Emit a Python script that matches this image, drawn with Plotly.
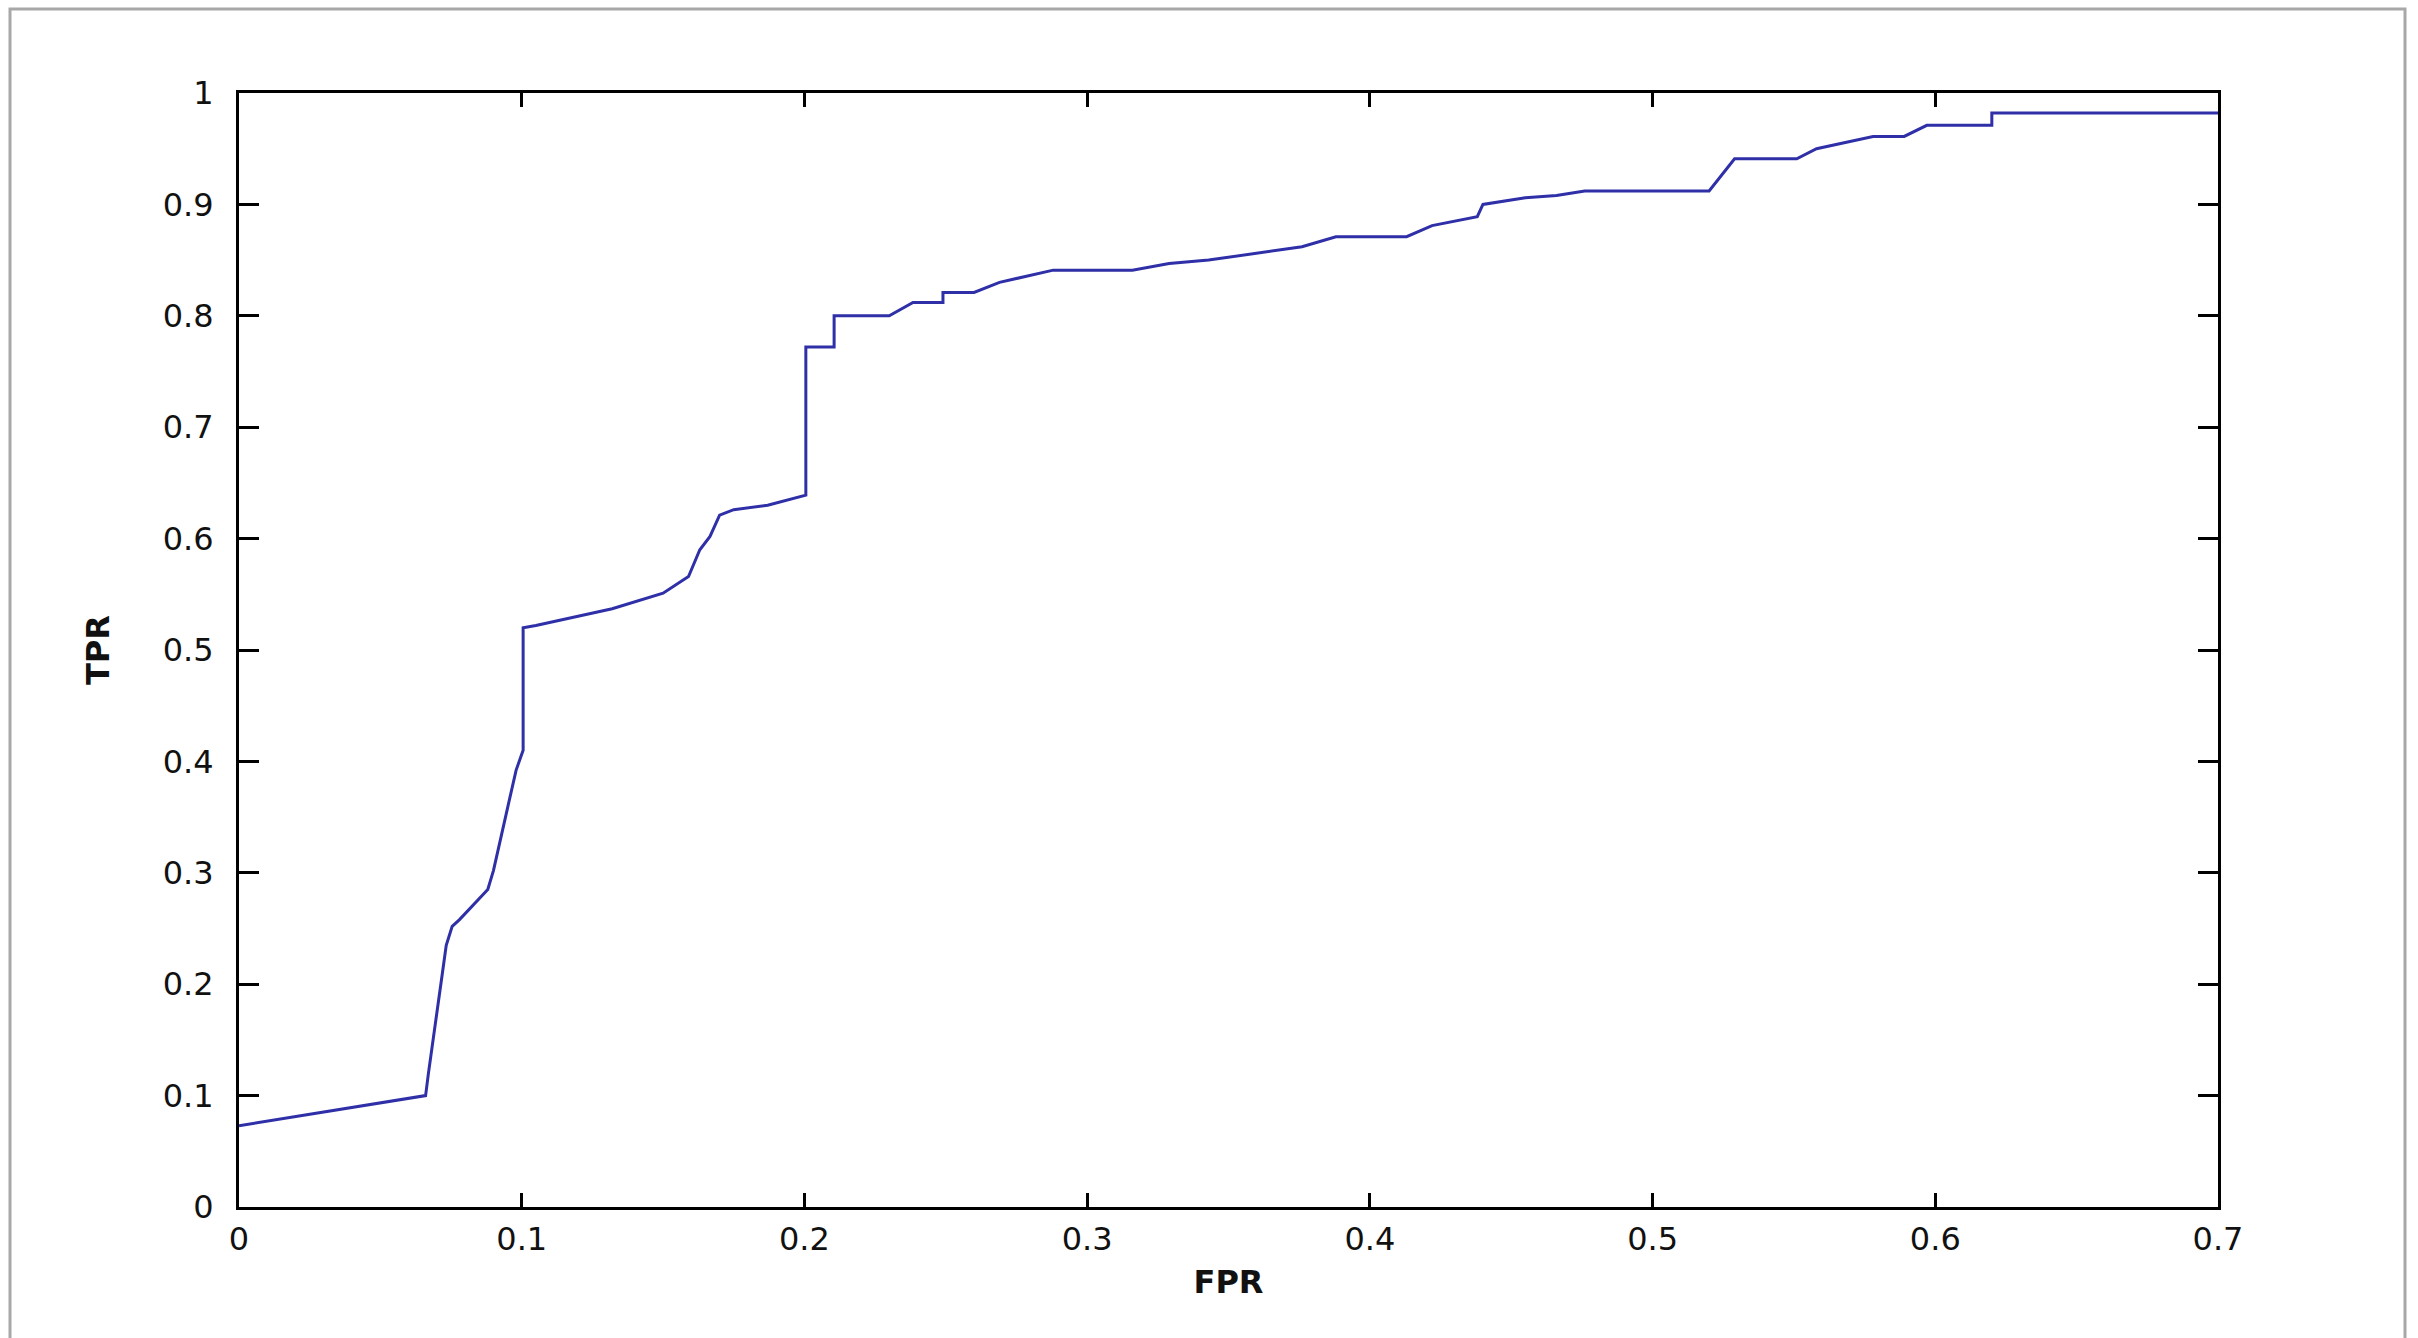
import plotly.graph_objects as go

# ROC curve
fpr = [0.000, 0.066, 0.067, 0.071, 0.072, 0.0733, 0.0754, 0.078, 0.088, 0.090,
       0.093, 0.096, 0.098, 0.1005, 0.1005, 0.105, 0.132, 0.150, 0.159, 0.163,
       0.1666, 0.170, 0.175, 0.187, 0.2005, 0.2005, 0.2105, 0.2105, 0.230, 0.2384,
       0.249, 0.249, 0.260, 0.269, 0.278, 0.288, 0.316, 0.329, 0.343, 0.354,
       0.363, 0.376, 0.388, 0.413, 0.422, 0.438, 0.440, 0.455, 0.466, 0.476,
       0.520, 0.529, 0.551, 0.558, 0.569, 0.578, 0.589, 0.597, 0.620, 0.620,
       0.700]
tpr = [0.073, 0.100, 0.120, 0.190, 0.211, 0.235, 0.252, 0.258, 0.285, 0.302,
       0.336, 0.371, 0.392, 0.410, 0.520, 0.522, 0.537, 0.551, 0.566, 0.590,
       0.602, 0.621, 0.626, 0.630, 0.639, 0.772, 0.772, 0.800, 0.800, 0.812,
       0.812, 0.821, 0.821, 0.830, 0.835, 0.841, 0.841, 0.847, 0.850, 0.854,
       0.857, 0.862, 0.871, 0.871, 0.881, 0.889, 0.900, 0.906, 0.908, 0.912,
       0.912, 0.941, 0.941, 0.950, 0.956, 0.961, 0.961, 0.971, 0.971, 0.982,
       0.982]

x_ticks = [0, 0.1, 0.2, 0.3, 0.4, 0.5, 0.6, 0.7]
x_labels = ["0", "0.1", "0.2", "0.3", "0.4", "0.5", "0.6", "0.7"]
y_ticks = [0, 0.1, 0.2, 0.3, 0.4, 0.5, 0.6, 0.7, 0.8, 0.9, 1]
y_labels = ["0", "0.1", "0.2", "0.3", "0.4", "0.5", "0.6", "0.7", "0.8", "0.9", "1"]

W, H = 2418, 1338
L, R, T, B = 239, 200, 93, 131
pw, ph = W - L - R, H - T - B

fig = go.Figure()
fig.add_trace(go.Scatter(x=fpr, y=tpr, mode="lines",
                         line=dict(color="#2f2fa8", width=3),
                         showlegend=False, hoverinfo="skip"))

tickfont = dict(family="DejaVu Sans", size=32, color="#111111")
titlefont = dict(family="DejaVu Sans", size=32, color="#111111")
fig.update_layout(
    width=W, height=H,
    margin=dict(l=L, r=R, t=T, b=B, pad=0),
    paper_bgcolor="white", plot_bgcolor="white",
    xaxis=dict(range=[0, 0.7], tickvals=x_ticks, ticktext=x_labels,
               ticks="inside", ticklen=14, tickwidth=3, tickcolor="black",
               showline=True, linecolor="black", linewidth=3, mirror="ticks",
               showgrid=False, zeroline=False, tickfont=tickfont,
               ticklabelstandoff=2,
               title=dict(text="<b>FPR</b>", font=titlefont, standoff=14)),
    yaxis=dict(range=[0, 1], tickvals=y_ticks, ticktext=y_labels,
               ticks="inside", ticklen=20, tickwidth=3, tickcolor="black",
               showline=True, linecolor="black", linewidth=3, mirror="ticks",
               showgrid=False, zeroline=False, tickfont=tickfont,
               ticklabelstandoff=16,
               title=dict(text="<b>TPR</b>", font=titlefont, standoff=44)),
    shapes=[dict(type="rect", xref="paper", yref="paper",
                 x0=(10 - L) / pw, x1=(2405 - L) / pw,
                 y0=(H - B - 1360) / ph, y1=(H - B - 9) / ph,
                 line=dict(color="#a8a8a8", width=3), fillcolor="rgba(0,0,0,0)",
                 layer="below")],
)

fig.write_html("out.html", config={"displayModeBar": False},
               post_script="document.body.style.margin='0';document.body.style.overflow='hidden';")
